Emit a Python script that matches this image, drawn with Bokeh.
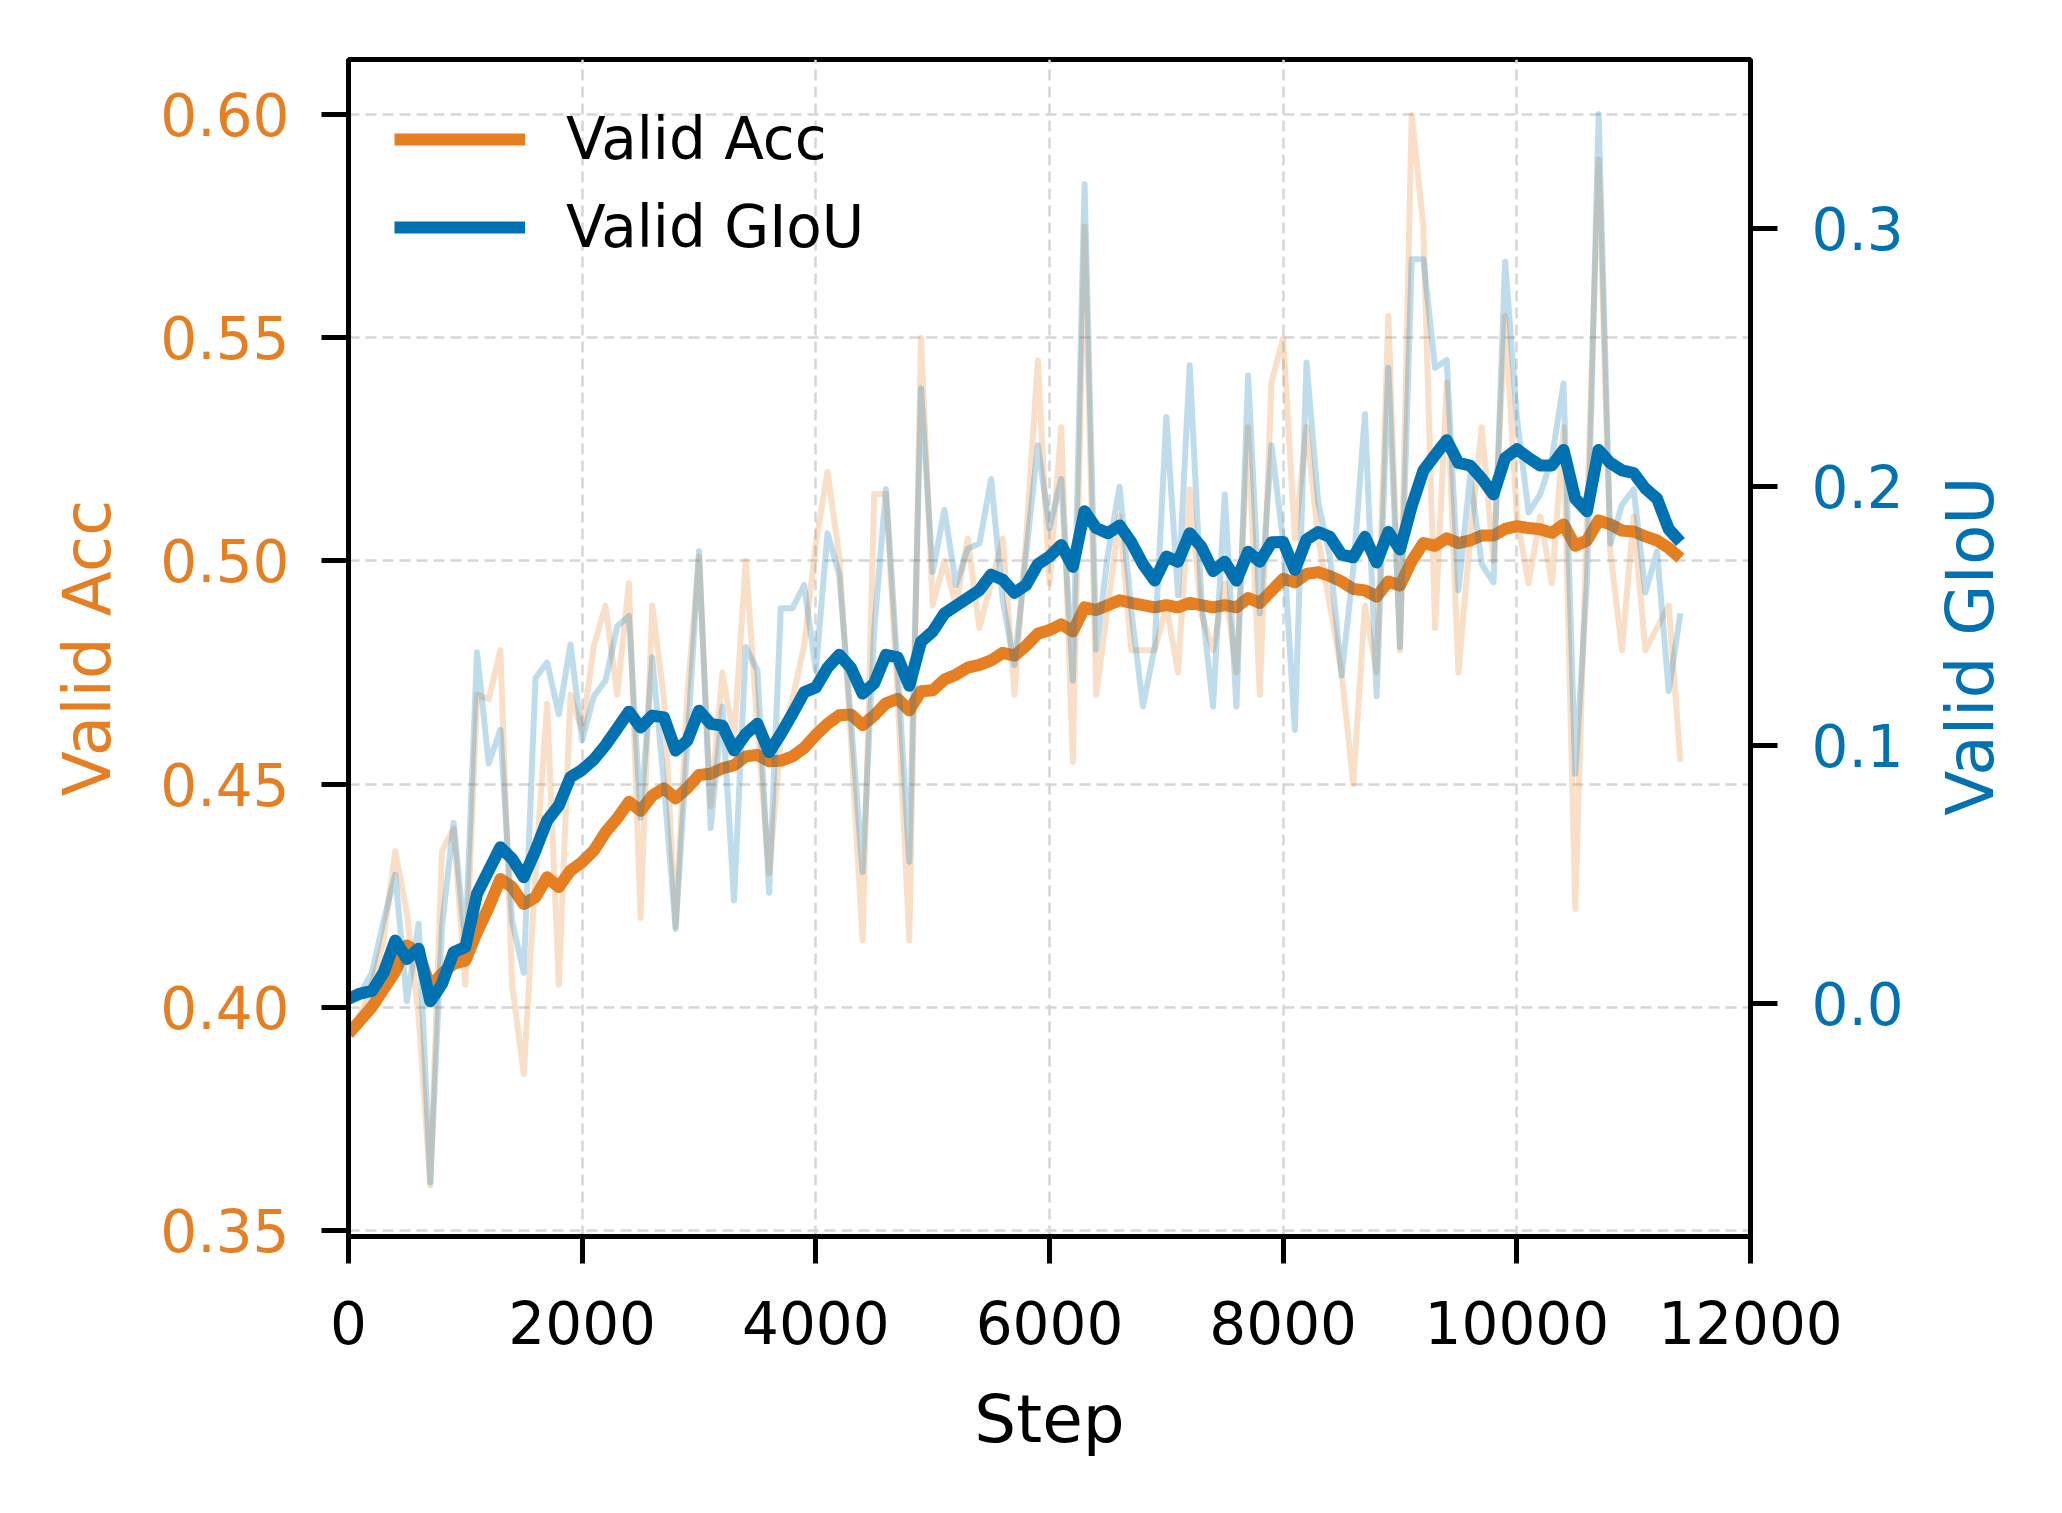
import math
from bokeh.plotting import figure
from bokeh.layouts import row
from bokeh.models import (Range1d, LinearAxis, FixedTicker, PrintfTickFormatter,
                          Legend, LegendItem)
from bokeh.embed import file_html
from bokeh.resources import INLINE

ORANGE = "#E67E22"
BLUE = "#0072B2"
FONT = "DejaVu Sans"

steps = list(range(0, 11500, 100))

acc_raw = [
    0.394, 0.398, 0.405, 0.415, 0.435, 0.421, 0.398, 0.360, 0.435, 0.440,
    0.405, 0.470, 0.469, 0.480, 0.405, 0.385, 0.430, 0.468, 0.405, 0.470,
    0.462, 0.481, 0.490, 0.470, 0.495, 0.420, 0.490, 0.469, 0.418, 0.470,
    0.501, 0.445, 0.475, 0.460, 0.500, 0.463, 0.430, 0.460, 0.469, 0.481,
    0.504, 0.520, 0.501, 0.460, 0.415, 0.515, 0.515, 0.470, 0.415, 0.550,
    0.490, 0.500, 0.490, 0.505, 0.485, 0.495, 0.505, 0.470, 0.505, 0.545,
    0.495, 0.530, 0.455, 0.575, 0.470, 0.490, 0.510, 0.480, 0.480, 0.480,
    0.490, 0.475, 0.516, 0.488, 0.480, 0.495, 0.475, 0.530, 0.470, 0.540,
    0.550, 0.505, 0.530, 0.505, 0.490, 0.475, 0.450, 0.490, 0.475, 0.555,
    0.480, 0.600, 0.575, 0.485, 0.540, 0.475, 0.505, 0.530, 0.500, 0.555,
    0.510, 0.495, 0.510, 0.495, 0.530, 0.422, 0.510, 0.590, 0.502, 0.480,
    0.510, 0.480, 0.485, 0.490, 0.455,
]

acc_smooth = [
    0.3940, 0.3970, 0.4000, 0.4040, 0.4080, 0.4138, 0.4120, 0.4045, 0.4075, 0.4097,
    0.4104, 0.4168, 0.4224, 0.4287, 0.4269, 0.4231, 0.4246, 0.4291, 0.4269, 0.4306,
    0.4325, 0.4351, 0.4392, 0.4423, 0.4460, 0.4440, 0.4474, 0.4490, 0.4468, 0.4491,
    0.4520, 0.4523, 0.4535, 0.4542, 0.4562, 0.4565, 0.4551, 0.4552, 0.4562, 0.4581,
    0.4610, 0.4635, 0.4654, 0.4656, 0.4632, 0.4654, 0.4681, 0.4691, 0.4665, 0.4708,
    0.4710, 0.4734, 0.4745, 0.4761, 0.4767, 0.4777, 0.4794, 0.4788, 0.4810, 0.4837,
    0.4845, 0.4858, 0.4842, 0.4896, 0.4890, 0.4901, 0.4912, 0.4906, 0.4901, 0.4896,
    0.4901, 0.4896, 0.4906, 0.4901, 0.4896, 0.4901, 0.4896, 0.4917, 0.4906, 0.4933,
    0.4960, 0.4952, 0.4971, 0.4975, 0.4966, 0.4954, 0.4937, 0.4934, 0.4920, 0.4954,
    0.4945, 0.5000, 0.5040, 0.5034, 0.5051, 0.5040, 0.5046, 0.5057, 0.5057, 0.5072,
    0.5078, 0.5074, 0.5071, 0.5063, 0.5082, 0.5034, 0.5046, 0.5091, 0.5082, 0.5068,
    0.5066, 0.5055, 0.5046, 0.5029, 0.5006,
]

giou_raw = [
    0.002, 0.004, 0.012, 0.032, 0.050, 0.001, 0.031, -0.069, 0.030, 0.070,
    0.023, 0.136, 0.093, 0.106, 0.032, 0.012, 0.126, 0.132, 0.112, 0.139,
    0.102, 0.119, 0.125, 0.146, 0.150, 0.072, 0.134, 0.085, 0.029, 0.100,
    0.175, 0.068, 0.115, 0.040, 0.138, 0.129, 0.043, 0.153, 0.153, 0.162,
    0.129, 0.182, 0.166, 0.110, 0.051, 0.145, 0.199, 0.130, 0.055, 0.238,
    0.167, 0.191, 0.162, 0.176, 0.178, 0.203, 0.156, 0.131, 0.174, 0.216,
    0.184, 0.203, 0.125, 0.317, 0.137, 0.174, 0.200, 0.152, 0.115, 0.138,
    0.227, 0.158, 0.247, 0.156, 0.115, 0.197, 0.115, 0.243, 0.151, 0.216,
    0.179, 0.106, 0.248, 0.194, 0.173, 0.127, 0.168, 0.228, 0.119, 0.246,
    0.138, 0.288, 0.288, 0.246, 0.249, 0.160, 0.204, 0.170, 0.163, 0.287,
    0.227, 0.190, 0.197, 0.211, 0.240, 0.089, 0.163, 0.344, 0.178, 0.193,
    0.199, 0.159, 0.175, 0.121, 0.151,
]

giou_smooth = [
    0.0020, 0.0040, 0.0050, 0.0120, 0.0245, 0.0174, 0.0213, 0.0010, 0.0077, 0.0200,
    0.0220, 0.0426, 0.0516, 0.0606, 0.0561, 0.0490, 0.0593, 0.0709, 0.0767, 0.0877,
    0.0905, 0.0945, 0.1000, 0.1065, 0.1130, 0.1069, 0.1115, 0.1108, 0.0980, 0.1018,
    0.1134, 0.1083, 0.1076, 0.0980, 0.1044, 0.1083, 0.0973, 0.1044, 0.1122, 0.1205,
    0.1224, 0.1300, 0.1350, 0.1300, 0.1200, 0.1240, 0.1350, 0.1340, 0.1230, 0.1400,
    0.1440, 0.1510, 0.1540, 0.1570, 0.1600, 0.1660, 0.1640, 0.1590, 0.1620, 0.1700,
    0.1730, 0.1775, 0.1690, 0.1905, 0.1840, 0.1820, 0.1850, 0.1785, 0.1700, 0.1637,
    0.1730, 0.1710, 0.1820, 0.1767, 0.1674, 0.1710, 0.1637, 0.1748, 0.1710, 0.1785,
    0.1786, 0.1678, 0.1796, 0.1825, 0.1806, 0.1737, 0.1727, 0.1806, 0.1707, 0.1825,
    0.1757, 0.1925, 0.2062, 0.2122, 0.2180, 0.2092, 0.2082, 0.2032, 0.1970, 0.2111,
    0.2145, 0.2112, 0.2082, 0.2082, 0.2142, 0.1954, 0.1905, 0.2142, 0.2092, 0.2063,
    0.2053, 0.1993, 0.1954, 0.1836, 0.1786,
]

x_ticks = [0, 2000, 4000, 6000, 8000, 10000, 12000]
acc_ticks = [0.35, 0.40, 0.45, 0.50, 0.55, 0.60]
giou_ticks = [0.0, 0.1, 0.2, 0.3]

MAIN_W = 1910
SIDE_W = 136
H = 1497

p = figure(width=MAIN_W, height=H, output_backend="svg", toolbar_location=None,
           x_range=Range1d(0, 12000), y_range=Range1d(0.34856, 0.61242),
           min_border_left=348, min_border_right=160, min_border_top=59,
           min_border_bottom=261, x_axis_label="Step", y_axis_label="Valid Acc")
p.extra_y_ranges = {"giou": Range1d(-0.08995, 0.36520)}

p.background_fill_color = "white"
p.border_fill_color = "white"
p.outline_line_color = "black"
p.outline_line_width = 5

# grid
p.xgrid.ticker = FixedTicker(ticks=x_ticks)
p.ygrid.ticker = FixedTicker(ticks=acc_ticks)
for g in (p.xgrid, p.ygrid):
    g.grid_line_color = "#d6d6d6"
    g.grid_line_width = 2.5
    g.grid_line_dash = "11 6"

def style_axis(ax, color, ticks, fmt, standoff):
    ax.ticker = FixedTicker(ticks=ticks)
    ax.formatter = PrintfTickFormatter(format=fmt)
    ax.axis_line_color = "black"
    ax.axis_line_width = 5
    ax.major_tick_in = 0
    ax.major_tick_out = 27
    ax.major_tick_line_width = 5
    ax.major_tick_line_color = "black"
    ax.minor_tick_line_color = None
    ax.major_label_text_font = FONT
    ax.major_label_text_font_size = "58px"
    ax.major_label_text_color = color
    ax.major_label_standoff = standoff
    ax.axis_label_text_font = FONT
    ax.axis_label_text_font_size = "66px"
    ax.axis_label_text_font_style = "normal"
    ax.axis_label_text_color = color

xa = p.xaxis[0]
style_axis(xa, "black", x_ticks, "%d", 37)
xa.axis_label_standoff = 34

ya = p.yaxis[0]
style_axis(ya, ORANGE, acc_ticks, "%.2f", 32)
ya.axis_label_standoff = 31

ra = LinearAxis(y_range_name="giou")
style_axis(ra, BLUE, giou_ticks, "%.1f", 34)
p.add_layout(ra, "right")

# lines
p.line(steps, acc_raw, line_color=ORANGE, line_alpha=0.25, line_width=6, line_join="round")
r_acc = p.line(steps, acc_smooth, line_color=ORANGE, line_width=12, line_join="round")
p.line(steps, giou_raw, y_range_name="giou", line_color=BLUE, line_alpha=0.25,
       line_width=6, line_join="round")
r_giou = p.line(steps, giou_smooth, y_range_name="giou", line_color=BLUE, line_width=12,
                line_join="round")

legend = Legend(items=[LegendItem(label="Valid Acc", renderers=[r_acc]),
                       LegendItem(label="Valid GIoU", renderers=[r_giou])],
                location="top_left", border_line_color=None, background_fill_alpha=0,
                label_text_font=FONT, label_text_font_size="58px", label_text_color="black",
                glyph_width=131, glyph_height=60, label_height=60, spacing=20,
                label_standoff=41, padding=0, margin=46)
p.add_layout(legend)

# right-hand axis title (reads bottom to top), in a narrow strip beside the chart
side = figure(width=SIDE_W, height=H, output_backend="svg", toolbar_location=None,
              x_axis_type=None, y_axis_type=None,
              x_range=Range1d(0, SIDE_W), y_range=Range1d(0, H),
              min_border=0, min_border_left=0, min_border_right=0,
              min_border_top=0, min_border_bottom=0)
side.outline_line_color = None
side.background_fill_color = "white"
side.border_fill_color = "white"
side.grid.visible = False
side.text(x=[60], y=[751], text=["Valid GIoU"], angle=math.pi / 2,
          text_align="center", text_baseline="middle",
          text_font={"value": FONT}, text_font_size={"value": "66px"}, text_color=BLUE)

layout = row(p, side, spacing=0)
open("out.html", "w").write(file_html(layout, INLINE))
